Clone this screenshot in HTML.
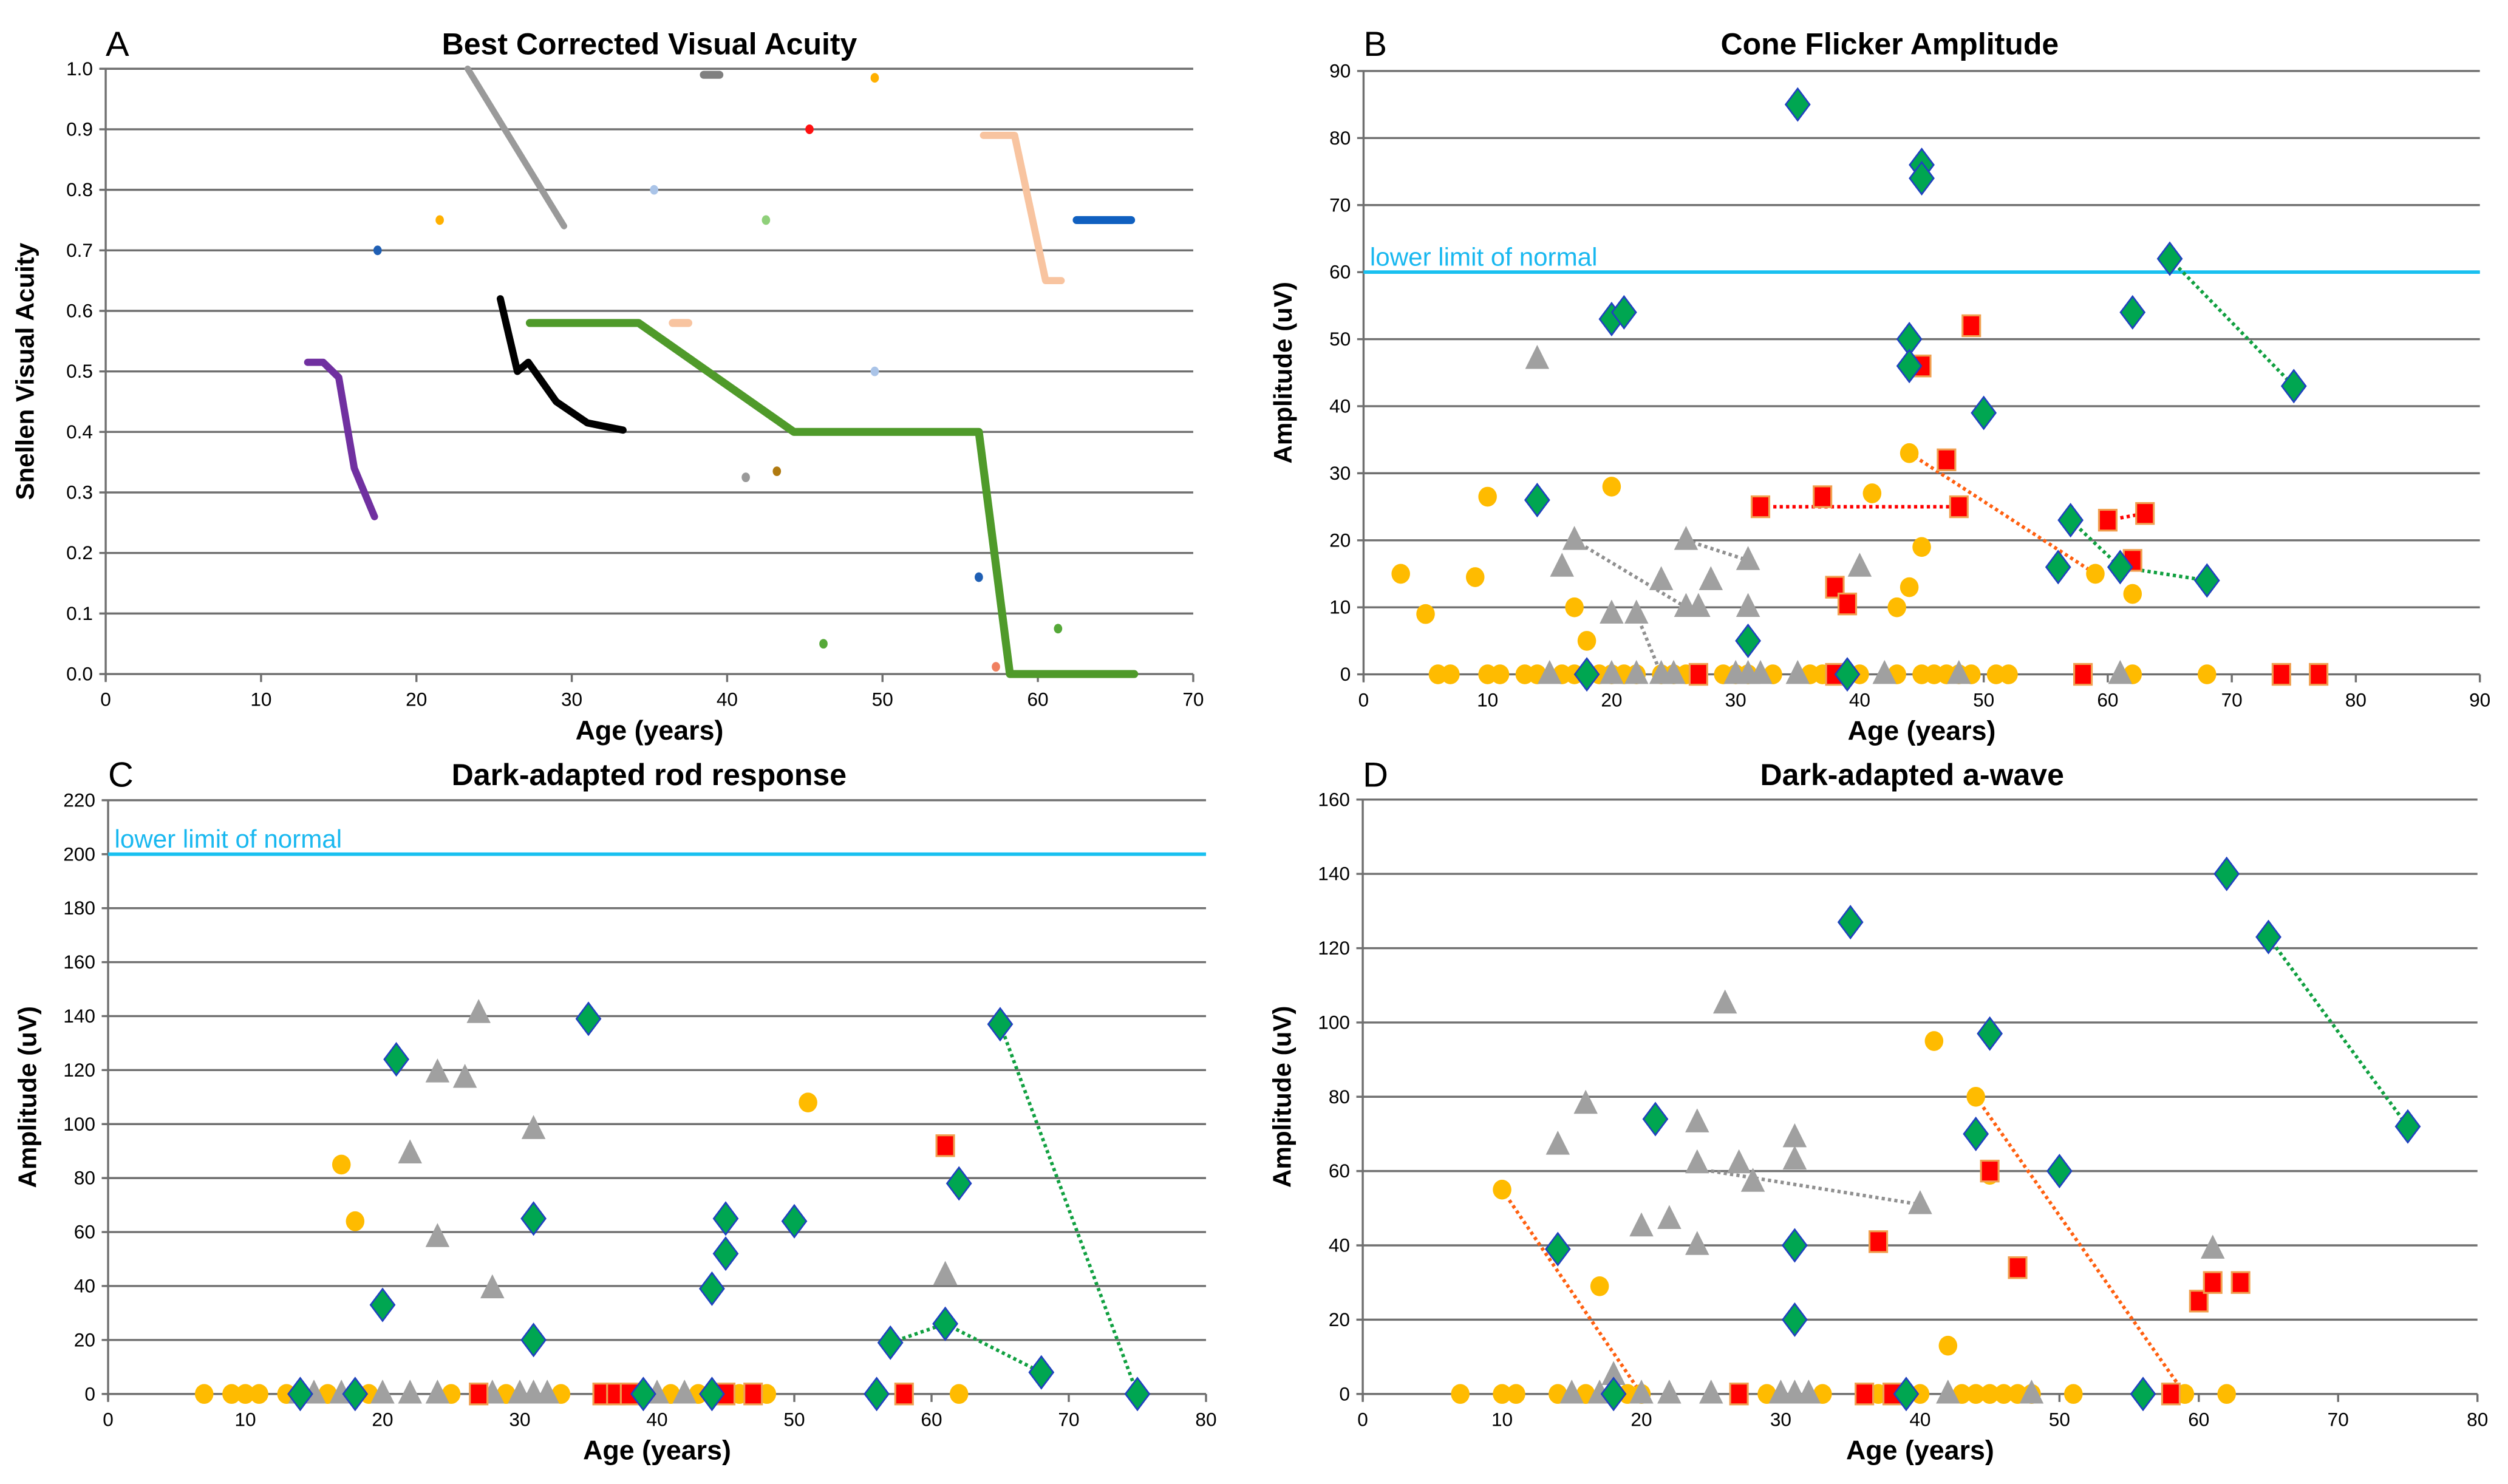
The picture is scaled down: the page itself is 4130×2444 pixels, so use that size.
<!DOCTYPE html>
<html><head><meta charset="utf-8">
<style>
html,body{margin:0;padding:0;background:#fff;}
svg{display:block;}
text{font-family:"Liberation Sans Narrow","Liberation Sans",sans-serif;}
</style></head>
<body>
<svg id="fig" width="4130" height="2444" viewBox="0 0 1568 928" xmlns="http://www.w3.org/2000/svg"></svg>
<script>
// ===== Panel A data (Best corrected visual acuity) =====
const aLineGrayAge=[23.3,29.5]; const aLineGrayVA=[1.0,0.74];
const aLineDkGrayAge=[38.5,39.5]; const aLineDkGrayVA=[0.99,0.99];
const aLinePurpleAge=[13,14,15,16,17.3]; const aLinePurpleVA=[0.515,0.515,0.49,0.34,0.26];
const aLineBlackAge=[25.4,26.5,27.2,29,31,33.3]; const aLineBlackVA=[0.62,0.50,0.515,0.45,0.415,0.403];
const aLineGreenAge=[27.3,34.3,44.3,56.2,58.2,66.2]; const aLineGreenVA=[0.58,0.58,0.40,0.40,0.0,0.0];
const aLinePeachAge=[56.5,58.5,60.5,61.5]; const aLinePeachVA=[0.89,0.89,0.65,0.65];
const aLinePeach2Age=[36.5,37.5]; const aLinePeach2VA=[0.58,0.58];
const aLineBlueAge=[62.5,66]; const aLineBlueVA=[0.75,0.75];
const aDotAge=[17.5,21.5,35.3,42.5,45.3,49.5,49.5,41.2,43.2,56.2,46.2,61.3,57.3];
const aDotVA=[0.70,0.75,0.80,0.75,0.90,0.985,0.50,0.325,0.335,0.16,0.05,0.075,0.012];
const aDotColor=["#1f5fb4","#ffb000","#aac4e8","#8fd07a","#ff1010","#ffb000","#aac4e8","#999999","#b07a10","#1f5fb4","#55a838","#55a838","#f08060"];
const aTicksY=["0.0","0.1","0.2","0.3","0.4","0.5","0.6","0.7","0.8","0.9","1.0"];

// ===== Panel B data (Cone flicker) =====
const bGreenAge=[35,45,45,65,20,21,62,44,44,50,75,14,57,56,61,68,31,18,39];
const bGreenVal=[85,76,74,62,53,54,54,50,46,39,43,26,23,16,16,14,5,0,0];
const bRedAge=[49,45,47,32,37,48,60,63,62,38,39,27,38,58,74,77];
const bRedVal=[52,46,32,25,26.5,25,23,24,17,13,10.5,0,0,0,0,0];
const bYelAge=[44,20,10,41,45,3,9,44,5,17,43,18,59,62,6,7,10,11,13,14,16,17,19,20,21,22,24,25,26,29,30,31,33,36,37,38,39,40,43,45,46,47,48,49,51,52,62,68];
const bYelVal=[33,28,26.5,27,19,15,14.5,13,9,10,10,5,15,12,0,0,0,0,0,0,0,0,0,0,0,0,0,0,0,0,0,0,0,0,0,0,0,0,0,0,0,0,0,0,0,0,0,0];
const bGrayAge=[14,17,26,16,31,40,24,28,20,22,26,27,31,15,20,22,24,25,30,31,32,35,42,48,61];
const bGrayVal=[47,20,20,16,17,16,14,14,9,9,10,10,10,0,0,0,0,0,0,0,0,0,0,0,0];

// ===== Panel C data (Rod response) =====
const cGreenAge=[35,65,21,62,31,45,50,45,44,20,61,31,57,68,75,14,18,39,44,56];
const cGreenVal=[139,137,124,78,65,65,64,52,39,33,26,20,19,8,0,0,0,0,0,0];
const cRedAge=[61,27,36,37,38,45,47,58];
const cRedVal=[92,0,0,0,0,0,0,0];
const cYelAge=[51,17,18,7,9,10,11,13,16,19,25,29,33,41,43,46,48,62];
const cYelVal=[108,85,64,0,0,0,0,0,0,0,0,0,0,0,0,0,0,0];
const cGrayAge=[27,24,26,31,22,24,28,61,14,15,17,20,22,24,28,30,31,32,40,42];
const cGrayVal=[141,119,117,98,89,58,39,44,0,0,0,0,0,0,0,0,0,0,0,0];

// ===== Panel D data (a-wave) =====
const dGreenAge=[62,35,65,45,21,75,44,50,14,31,31,18,39,56];
const dGreenVal=[140,127,123,97,74,72,70,60,39,40,20,0,0,0];
const dRedAge=[45,37,47,60,61,63,27,36,38,58];
const dRedVal=[60,41,34,25,30,30,0,0,0,0];
const dYelAge=[41,44,10,17,42,45,7,10,11,14,16,19,20,29,33,37,40,43,44,45,46,47,48,51,59,62];
const dYelVal=[95,80,55,29,13,59,0,0,0,0,0,0,0,0,0,0,0,0,0,0,0,0,0,0,0,0];
const dGrayAge=[26,16,14,24,31,24,27,31,28,40,20,22,24,61,18,15,17,20,22,25,30,31,32,42,48];
const dGrayVal=[105,78,67,73,69,62,62,63,57,51,45,47,40,39,5,0,0,0,0,0,0,0,0,0,0];

const NS="http://www.w3.org/2000/svg";
const svg=document.getElementById('fig');
function mk(tag,attrs,parent){const e=document.createElementNS(NS,tag);for(const k in attrs)e.setAttribute(k,attrs[k]);(parent||svg).appendChild(e);return e;}

function panel(o){
  const g=mk('g',{});
  
  
  const sx=v=>o.x0+(v-o.xmin)/(o.xmax-o.xmin)*(o.x1-o.x0);
  const sy=v=>o.y0-(v-o.ymin)/(o.ymax-o.ymin)*(o.y0-o.y1);
  for(let v=o.ymin;v<=o.ymax+1e-9;v+=o.ystep){
    const y=sy(v);
    const gl=mk('line',{x1:o.x0-4,y1:y,x2:o.x1,y2:y,stroke:'#6f6f6f','stroke-width':1.3},g);
    
    
    const t=mk('text',{x:o.x0-8,y:y+4,'font-size':12,'text-anchor':'end',fill:'#000'},g);
    
    
    t.textContent=o.ytl?o.ytl[Math.round((v-o.ymin)/o.ystep)]:String(Math.round(v));
  }
  mk('line',{x1:o.x0,y1:o.y0+4,x2:o.x0,y2:o.y1,stroke:'#6f6f6f','stroke-width':1.3},g);
  for(let v=o.xmin;v<=o.xmax+1e-9;v+=10){
    const x=sx(v);
    mk('line',{x1:x,y1:o.y0,x2:x,y2:o.y0+5,stroke:'#6f6f6f','stroke-width':1.3},g);
    const t=mk('text',{x:x,y:o.y0+20,'font-size':12,'text-anchor':'middle'},g);
    
    
    t.textContent=String(v);
  }
  const lab=mk('text',{x:o.x0+0,y:o.ty+15,'font-size':22,'font-family':'Liberation Sans, sans-serif'},g);
  
  
  lab.textContent=o.letter;
  const tt=mk('text',{x:(o.x0+o.x1)/2+o.tdx,y:o.ty+14,'font-size':19,'font-weight':'bold','text-anchor':'middle'},g);
  
  
  tt.textContent=o.title;
  const xt=mk('text',{x:(o.x0+o.x1)/2+o.xdx,y:o.y0+41,'font-size':17,'font-weight':'bold','text-anchor':'middle'},g);
  
  
  xt.textContent='Age (years)';
  const cy=(o.y0+o.y1)/2;
  const yt=mk('text',{x:o.x0-45,y:cy,'font-size':16,'font-weight':'bold','text-anchor':'middle','font-family':'Liberation Sans, sans-serif',transform:`rotate(-90 ${o.x0-45} ${cy})`},g);
  
  
  yt.textContent=o.ytitle;
  if(o.lln!==undefined){
    const y=sy(o.lln);
    const l=mk('line',{x1:o.x0,y1:y,x2:o.x1,y2:y,stroke:'#19c0f0','stroke-width':2.2},g);
    
    
    const t=mk('text',{x:o.x0+4,y:y-4,'font-size':16,fill:'#19b8f0'},g);
    
    
    t.textContent='lower limit of normal';
  }
  return {g,sx,sy};
}

function dotted(p,ax,ay,color,name){
  const pts=ax.map((a,i)=>p.sx(a)+','+p.sy(ay[i])).join(' ');
  const l=mk('polyline',{points:pts,fill:'none',stroke:color,'stroke-width':2.2,'stroke-dasharray':'2,2'},p.g);
  
  
}
function markers(p,ages,vals,type,name){
  ages.forEach((a,i)=>{
    const x=p.sx(a),y=p.sy(vals[i]);let e;
    if(type==='diamond') e=mk('polygon',{points:`${x},${y-10} ${x+7.5},${y} ${x},${y+10} ${x-7.5},${y}`,fill:'#00a651',stroke:'#2040c0','stroke-width':1},p.g);
    else if(type==='square') e=mk('rect',{x:x-5.5,y:y-6.5,width:11,height:13,fill:'#ff0000',stroke:'#f0a050','stroke-width':1.2},p.g);
    else if(type==='circle') e=mk('ellipse',{cx:x,cy:y,rx:5.8,ry:6.2,fill:'#ffbb00'},p.g);
    else e=mk('polygon',{points:`${x},${y-9} ${x+7.5},${y+6} ${x-7.5},${y+6}`,fill:'#a0a0a0'},p.g);
    
    
  });
}
function aline(p,ax,ay,color,w,name){
  const pts=ax.map((a,i)=>p.sx(a)+','+p.sy(ay[i])).join(' ');
  const l=mk('polyline',{points:pts,fill:'none',stroke:color,'stroke-width':w,'stroke-linecap':'round','stroke-linejoin':'round'},p.g);
  
  
}

// Panel A
const pA=panel({name:'panel-a-visual-acuity',letter:'A',title:'Best Corrected Visual Acuity',ytitle:'Snellen Visual Acuity',x0:66,x1:746,y0:421.5,y1:43,xmin:0,xmax:70,ymin:0,ymax:1.0,ystep:0.1,ytl:aTicksY,ty:20,tdx:0,xdx:0});
aline(pA,aLineGrayAge,aLineGrayVA,'#9a9a9a',4,'patient-line-gray');
aline(pA,aLineDkGrayAge,aLineDkGrayVA,'#808080',5,'patient-line-darkgray');
aline(pA,aLinePurpleAge,aLinePurpleVA,'#7030a0',4.5,'patient-line-purple');
aline(pA,aLineBlackAge,aLineBlackVA,'#000000',4.5,'patient-line-black');
aline(pA,aLineGreenAge,aLineGreenVA,'#4f9a2a',5,'patient-line-green');
aline(pA,aLinePeachAge,aLinePeachVA,'#f8c4a0',4.5,'patient-line-peach');
aline(pA,aLinePeach2Age,aLinePeach2VA,'#f8c4a0',5,'patient-line-peach-short');
aline(pA,aLineBlueAge,aLineBlueVA,'#1060c0',5,'patient-line-blue');
aDotAge.forEach((a,i)=>{
  const c=mk('ellipse',{cx:pA.sx(a),cy:pA.sy(aDotVA[i]),rx:2.6,ry:3,fill:aDotColor[i]},pA.g);
  
  
});

// Panel B
const pB=panel({name:'panel-b-cone-flicker',letter:'B',title:'Cone Flicker Amplitude',ytitle:'Amplitude  (uV)',x0:852.5,x1:1550.5,y0:421.7,y1:44.4,xmin:0,xmax:90,ymin:0,ymax:90,ystep:10,lln:60,ty:20,tdx:-20,xdx:0});
dotted(pB,[17,26],[20,10],'#909090','trend-gray');
dotted(pB,[26,31],[20,17],'#909090','trend-gray');
dotted(pB,[22,24],[9,0],'#909090','trend-gray');
dotted(pB,[32,48],[25,25],'#ff0000','trend-red');
dotted(pB,[60,63],[23,24],'#ff0000','trend-red');
dotted(pB,[44,59],[33,15],'#ff6010','trend-orange');
dotted(pB,[65,75],[62,43],'#10a040','trend-green');
dotted(pB,[57,61,68],[23,16,14],'#10a040','trend-green');
markers(pB,bYelAge,bYelVal,'circle','yellow-circle');
markers(pB,bGrayAge,bGrayVal,'triangle','gray-triangle');
markers(pB,bRedAge,bRedVal,'square','red-square');
markers(pB,bGreenAge,bGreenVal,'diamond','green-diamond');

// Panel C
const pC=panel({name:'panel-c-rod-response',letter:'C',title:'Dark-adapted rod response',ytitle:'Amplitude  (uV)',x0:67.5,x1:754,y0:871.7,y1:500.4,xmin:0,xmax:80,ymin:0,ymax:220,ystep:20,lln:200,ty:477,tdx:-5,xdx:0});
dotted(pC,[65,75],[137,0],'#10a040','trend-green');
dotted(pC,[57,61,68],[19,26,8],'#10a040','trend-green');
markers(pC,cYelAge,cYelVal,'circle','yellow-circle');
markers(pC,cGrayAge,cGrayVal,'triangle','gray-triangle');
markers(pC,cRedAge,cRedVal,'square','red-square');
markers(pC,cGreenAge,cGreenVal,'diamond','green-diamond');

// Panel D
const pD=panel({name:'panel-d-a-wave',letter:'D',title:'Dark-adapted a-wave',ytitle:'Amplitude  (uV)',x0:852,x1:1549,y0:871.7,y1:500,xmin:0,xmax:80,ymin:0,ymax:160,ystep:20,ty:477,tdx:-5,xdx:0});
dotted(pD,[25,40],[60,51],'#909090','trend-gray');
dotted(pD,[10,20],[55,0],'#ff6010','trend-orange');
dotted(pD,[44,59],[80,0],'#ff6010','trend-orange');
dotted(pD,[65,75],[123,72],'#10a040','trend-green');
markers(pD,dYelAge,dYelVal,'circle','yellow-circle');
markers(pD,dGrayAge,dGrayVal,'triangle','gray-triangle');
markers(pD,dRedAge,dRedVal,'square','red-square');
markers(pD,dGreenAge,dGreenVal,'diamond','green-diamond');
</script>
</body></html>
